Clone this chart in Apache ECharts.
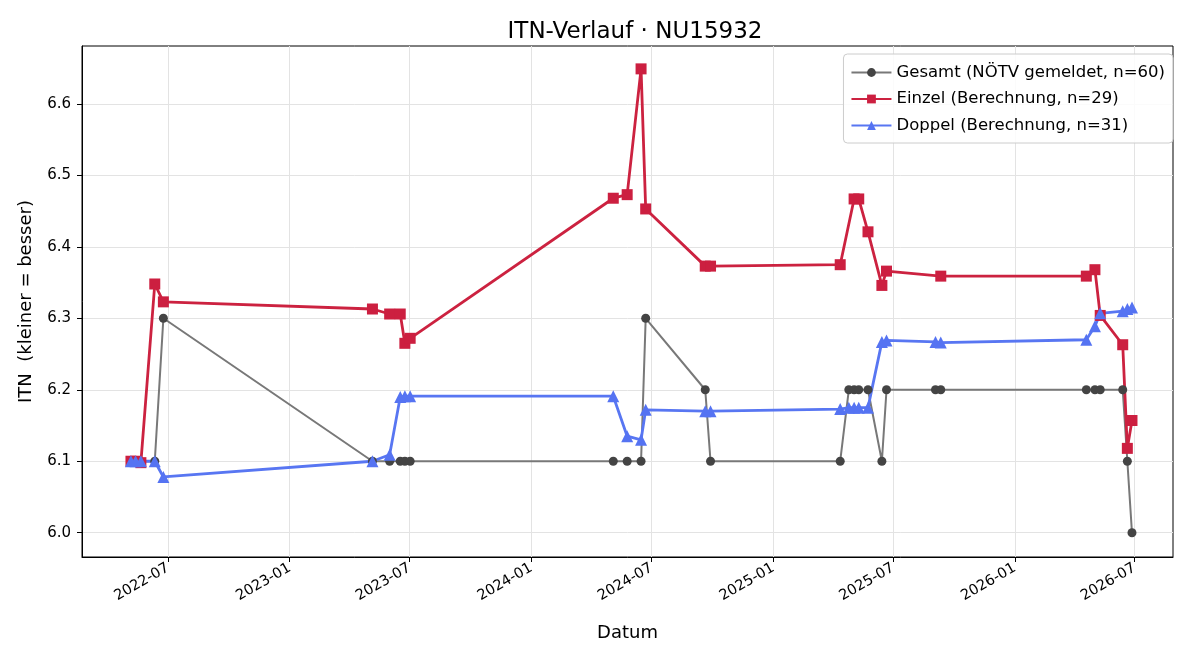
<!DOCTYPE html>
<html>
<head>
<meta charset="utf-8">
<script src="https://cdn.jsdelivr.net/npm/echarts@6/dist/echarts.min.js"></script>
<style>
  html, body {margin: 0; padding: 0; background: #fff;}
  #chart {width: 1200px; height: 660px;}
</style>
</head>
<body>
<div id="chart"></div>
<script>
// Achsenbeschriftung
const xTickLabels = ['2022-07', '2023-01', '2023-07', '2024-01', '2024-07', '2025-01', '2025-07', '2026-01', '2026-07'];
const yTickValues = [6.0, 6.1, 6.2, 6.3, 6.4, 6.5, 6.6];

// Gesamt (NÖTV gemeldet)
const gesamtDates = ['2022-05-06', '2022-06-11', '2022-06-24', '2023-05-06', '2023-06-01', '2023-06-17', '2023-06-24', '2023-07-02',
  '2024-05-04', '2024-05-25', '2024-06-15', '2024-06-22', '2024-09-20', '2024-09-28', '2025-04-12', '2025-04-25', '2025-05-03',
  '2025-05-10', '2025-05-24', '2025-06-14', '2025-06-21', '2025-09-03', '2025-09-11', '2026-04-19', '2026-05-02', '2026-05-10',
  '2026-06-13', '2026-06-20', '2026-06-27'];
const gesamtValues = [6.1, 6.1, 6.3, 6.1, 6.1, 6.1, 6.1, 6.1,
  6.1, 6.1, 6.1, 6.3, 6.2, 6.1, 6.1, 6.2, 6.2,
  6.2, 6.2, 6.1, 6.2, 6.2, 6.2, 6.2, 6.2, 6.2,
  6.2, 6.1, 6.0];

// Einzel (Berechnung)
const einzelDates = ['2022-05-06', '2022-05-13', '2022-05-21', '2022-06-11', '2022-06-24', '2023-05-06', '2023-06-01', '2023-06-17',
  '2023-06-24', '2023-07-02', '2024-05-04', '2024-05-25', '2024-06-15', '2024-06-22', '2024-09-20', '2024-09-28', '2025-04-12',
  '2025-05-03', '2025-05-10', '2025-05-24', '2025-06-14', '2025-06-21', '2025-09-11', '2026-04-19', '2026-05-02', '2026-05-10',
  '2026-06-13', '2026-06-20', '2026-06-27'];
const einzelValues = [6.1, 6.1, 6.098, 6.348, 6.323, 6.313, 6.306, 6.306,
  6.265, 6.272, 6.468, 6.473, 6.649, 6.453, 6.373, 6.373, 6.375,
  6.467, 6.467, 6.421, 6.346, 6.366, 6.359, 6.359, 6.368, 6.304,
  6.263, 6.118, 6.157];

// Doppel (Berechnung)
const doppelDates = ['2022-05-06', '2022-05-13', '2022-05-21', '2022-06-11', '2022-06-24', '2023-05-06', '2023-06-01', '2023-06-17',
  '2023-06-24', '2023-07-02', '2024-05-04', '2024-05-25', '2024-06-15', '2024-06-22', '2024-09-20', '2024-09-28', '2025-04-12',
  '2025-04-25', '2025-05-03', '2025-05-10', '2025-05-24', '2025-06-14', '2025-06-21', '2025-09-03', '2025-09-11', '2026-04-19',
  '2026-05-02', '2026-05-10', '2026-06-13', '2026-06-20', '2026-06-27'];
const doppelValues = [6.1, 6.1, 6.1, 6.1, 6.078, 6.1, 6.109, 6.19,
  6.191, 6.191, 6.191, 6.135, 6.13, 6.172, 6.17, 6.17, 6.173,
  6.175, 6.175, 6.175, 6.175, 6.267, 6.269, 6.267, 6.266, 6.27,
  6.289, 6.307, 6.31, 6.313, 6.315];

const toTime = (s) => new Date(s + 'T00:00:00').getTime();
const xTickValues = xTickLabels.map(s => toTime(s + '-01'));
const pairs = (dates, values) => dates.map((d, i) => [toTime(d), values[i]]);

const font = 'DejaVu Sans';
let chart = echarts.init(document.getElementById('chart'), null, {renderer: 'canvas'});

chart.setOption({
  animation: false,
  backgroundColor: '#fff',
  textStyle: {fontFamily: font, color: '#000'},
  title: {
    text: 'ITN-Verlauf · NU15932',
    left: 630,
    top: 16,
    textAlign: 'center',
    textStyle: {fontFamily: font, fontSize: 23, fontWeight: 'normal', color: '#000'}
  },
  grid: {
    left: 82,
    right: 27,
    top: 46,
    bottom: 103,
    show: true,
    borderColor: '#000',
    borderWidth: 1,
    containLabel: false
  },
  legend: {
    orient: 'vertical',
    right: 27,
    top: 54,
    itemWidth: 40,
    itemHeight: 11,
    itemGap: 9.5,
    padding: [10, 8, 9, 7],
    backgroundColor: 'rgba(255,255,255,0.85)',
    borderColor: '#cccccc',
    borderWidth: 1,
    borderRadius: 4,
    textStyle: {fontFamily: font, fontSize: 16.5, color: '#000'},
    data: ['Gesamt (NÖTV gemeldet, n=60)', 'Einzel (Berechnung, n=29)', 'Doppel (Berechnung, n=31)']
  },
  xAxis: {
    type: 'value',
    min: toTime('2022-02-21'),
    max: toTime('2026-08-28'),
    name: 'Datum',
    nameLocation: 'middle',
    nameGap: 67,
    nameTextStyle: {fontFamily: font, fontSize: 18, color: '#000'},
    axisLine: {show: true, lineStyle: {color: '#000', width: 1}},
    axisTick: {show: true, inside: false, length: 5, lineStyle: {color: '#000'}, customValues: xTickValues},
    axisLabel: {
      rotate: 30,
      fontFamily: font,
      fontSize: 14.5,
      color: '#000',
      margin: 10,
      customValues: xTickValues,
      formatter: (v) => {
        let i = xTickValues.indexOf(v);
        return i >= 0 ? xTickLabels[i] : '';
      }
    },
    splitLine: {show: true, lineStyle: {color: '#e3e3e3', width: 1}}
  },
  yAxis: {
    type: 'value',
    min: 5.966,
    max: 6.681,
    name: 'ITN  (kleiner = besser)',
    nameLocation: 'middle',
    nameGap: 47,
    nameTextStyle: {fontFamily: font, fontSize: 18, color: '#000'},
    axisLine: {show: true, lineStyle: {color: '#000', width: 1}},
    axisTick: {show: true, inside: false, length: 5, lineStyle: {color: '#000'}, customValues: yTickValues},
    axisLabel: {
      fontFamily: font,
      fontSize: 15,
      color: '#000',
      margin: 11,
      customValues: yTickValues,
      formatter: (v) => v.toFixed(1)
    },
    splitLine: {show: true, lineStyle: {color: '#e3e3e3', width: 1}}
  },
  series: [
    {
      name: 'Gesamt (NÖTV gemeldet, n=60)',
      type: 'line',
      data: pairs(gesamtDates, gesamtValues),
      symbol: 'circle',
      symbolSize: 9,
      showAllSymbol: true,
      lineStyle: {color: '#787878', width: 2},
      itemStyle: {color: '#444444', borderWidth: 0}
    },
    {
      name: 'Einzel (Berechnung, n=29)',
      type: 'line',
      data: pairs(einzelDates, einzelValues),
      symbol: 'rect',
      symbolSize: 11,
      showAllSymbol: true,
      lineStyle: {color: '#cc2240', width: 2.8},
      itemStyle: {color: '#cc1f40', borderWidth: 0}
    },
    {
      name: 'Doppel (Berechnung, n=31)',
      type: 'line',
      data: pairs(doppelDates, doppelValues),
      symbol: 'triangle',
      symbolSize: 12,
      showAllSymbol: true,
      lineStyle: {color: '#5876f2', width: 2.8},
      itemStyle: {color: '#5573f2', borderWidth: 0}
    }
  ]
});
</script>
</body>
</html>
